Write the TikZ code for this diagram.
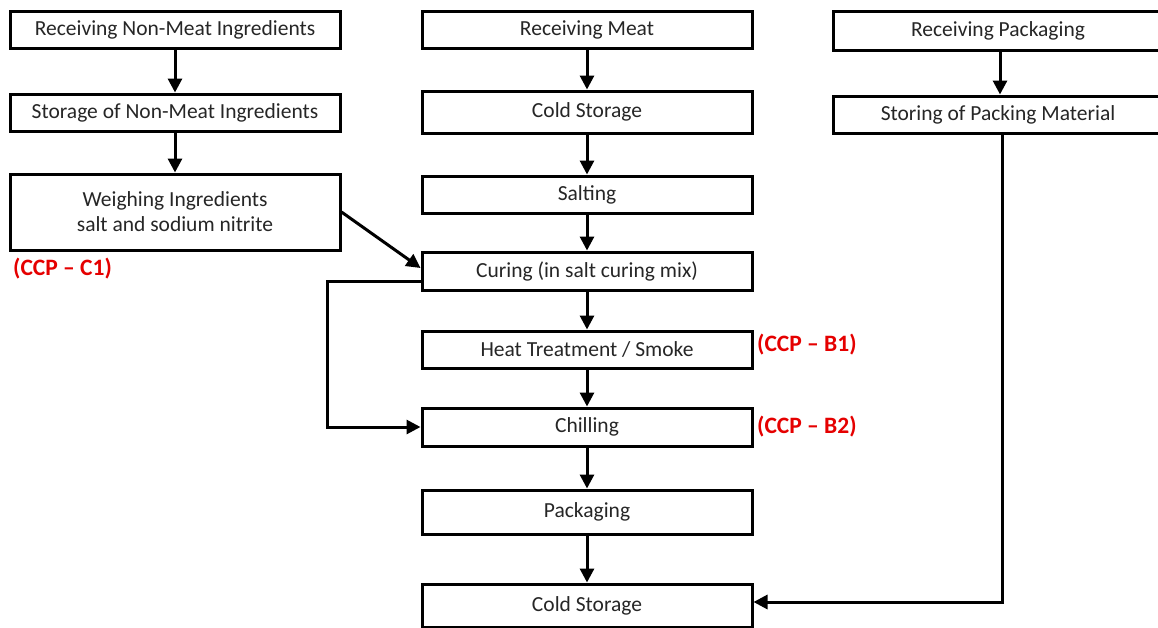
\documentclass[tikz,border=0pt]{standalone}
\usepackage{fontspec}
\setmainfont{Carlito}
\usetikzlibrary{arrows.meta}
\begin{document}
\begin{tikzpicture}[x=1pt,y=-1pt,
  box/.style={draw=black,line width=3pt,fill=white,inner sep=0pt,minimum width=330pt,align=center,font=\fontsize{21.5}{25}\selectfont,text=black!85},
  arr/.style={line width=3pt,-{Triangle[length=14pt,width=14pt]}},
  ccp/.style={text=red!90!black,font=\fontsize{23.5}{28}\selectfont\bfseries,inner sep=0pt,anchor=west}]
\useasboundingbox (0,0) rectangle (1158,627);
\clip (0,0) rectangle (1158,627);
% left column
\node[box,minimum height=37pt] (l1) at (175,29.5) {Receiving Non-Meat Ingredients};
\node[box,minimum height=37pt] (l2) at (175,112.5) {Storage of Non-Meat Ingredients};
\node[box,minimum height=76pt] (l3) at (175,212) {Weighing Ingredients\\salt and sodium nitrite};
\node[ccp] (c1) at (13,269) {(CCP – C1)};
% middle column
\node[box,minimum height=37pt] (m1) at (587,29.5) {Receiving Meat};
\node[box,minimum height=42pt] (m2) at (587,112) {Cold Storage};
\node[box,minimum height=37pt] (m3) at (587,194.5) {Salting};
\node[box,minimum height=38pt] (m4) at (587,271) {Curing (in salt curing mix)};
\node[box,minimum height=37pt] (m5) at (587,349.5) {Heat Treatment / Smoke};
\node[box,minimum height=38pt] (m6) at (587,427) {Chilling};
\node[box,minimum height=44pt] (m7) at (587,512) {Packaging};
\node[box,minimum height=43pt] (m8) at (587,605.5) {Cold Storage};
\node[ccp] (b1) at (757,345) {(CCP – B1)};
\node[ccp] (b2) at (757,427) {(CCP – B2)};
% right column
\node[box,minimum height=39pt] (r1) at (998,30.5) {Receiving Packaging};
\node[box,minimum height=37pt] (r2) at (998,114.5) {Storing of Packing Material};
\coordinate (rc) at (1002,602);
% connectors
\draw[arr] (l1) -- (l2);
\draw[arr] (l2) -- (l3);
\draw[arr] (m1) -- (m2);
\draw[arr] (m2) -- (m3);
\draw[arr] (m3) -- (m4);
\draw[arr] (m4) -- (m5);
\draw[arr] (m5) -- (m6);
\draw[arr] (m6) -- (m7);
\draw[arr] (m7) -- (m8);
\draw[arr] (r1.south -| 1000,0) -- (r2.north -| 1000,0);
\draw[arr] (l3.east) -- ([yshift=3pt]m4.west);
\draw[arr] ([yshift=-10pt]m4.west) -| (327,427) -- (m6.west);
\draw[arr] (r2.south -| rc) -- (rc) -- (m8.east |- rc);
\end{tikzpicture}
\end{document}
